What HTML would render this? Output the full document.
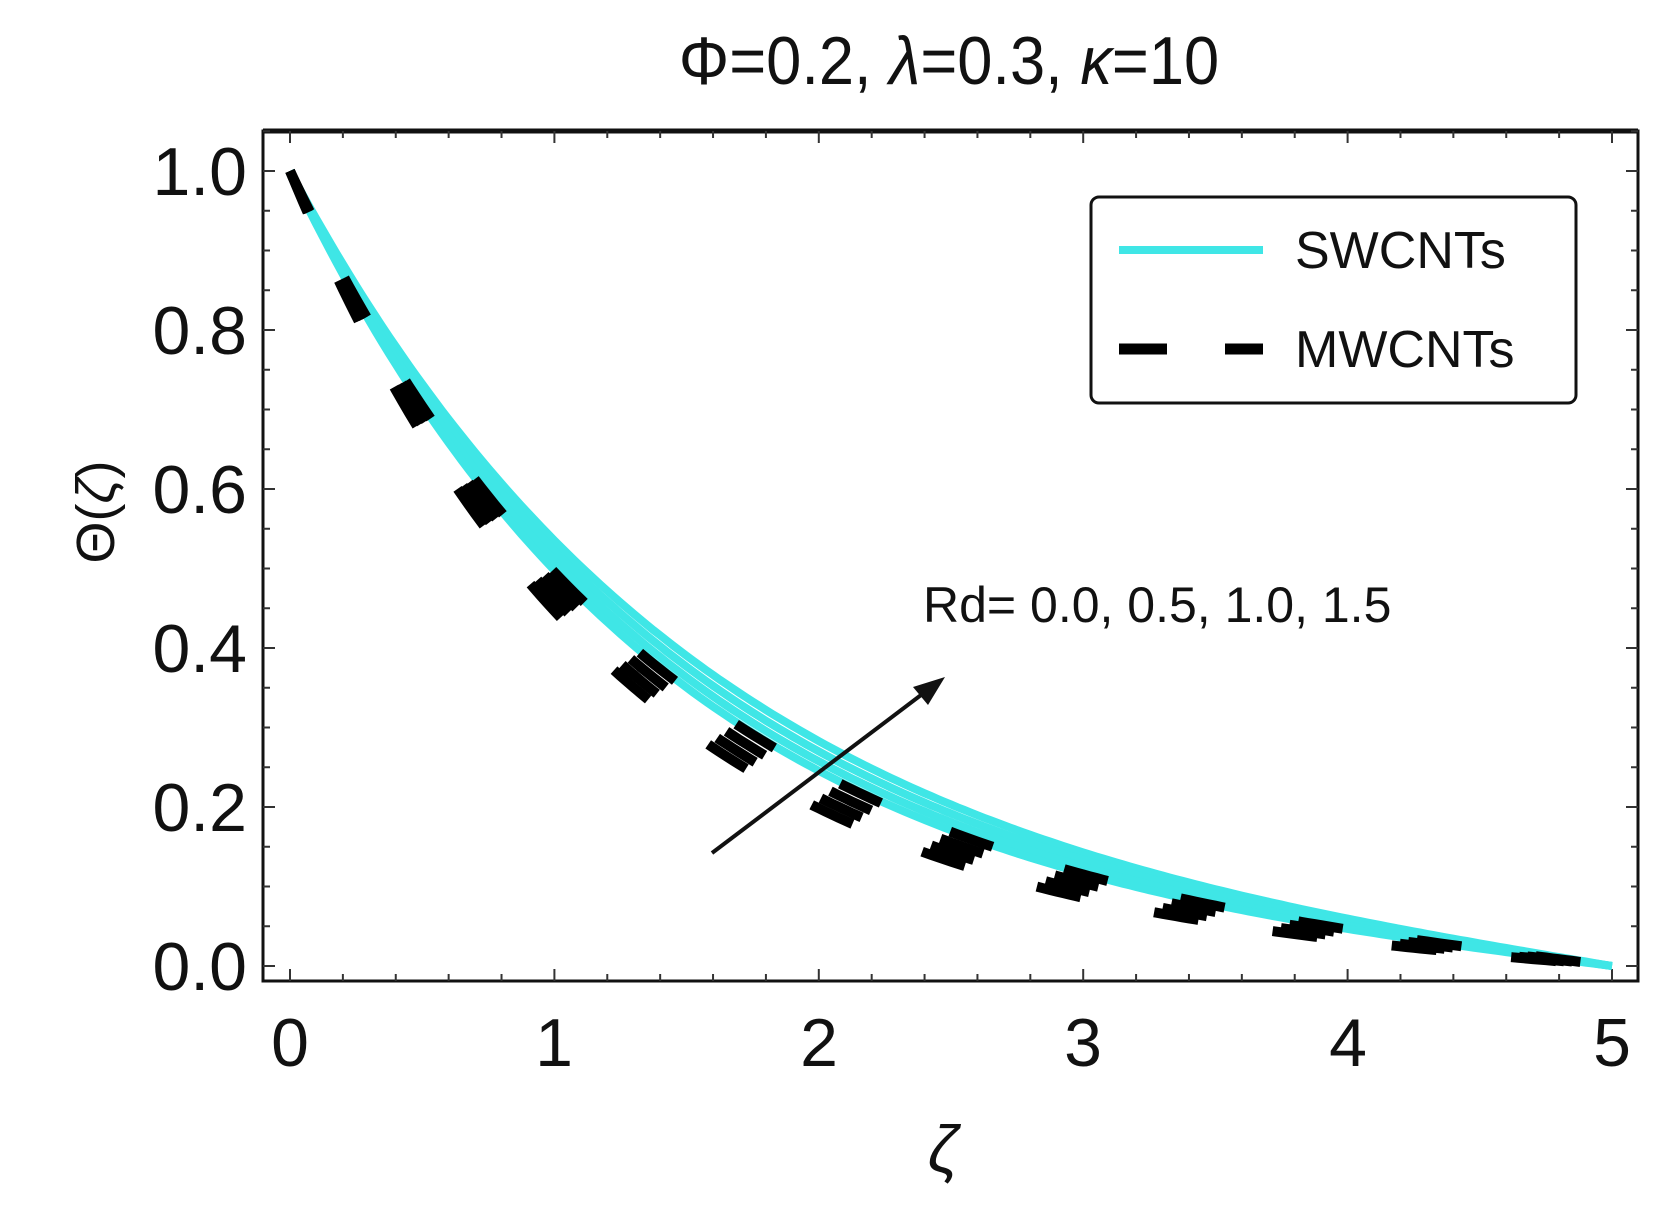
<!DOCTYPE html>
<html><head><meta charset="utf-8"><style>
html,body{margin:0;padding:0;background:#fff;}
svg{display:block;font-family:"Liberation Sans",sans-serif;}
</style></head><body>
<svg id="s" width="1671" height="1221" viewBox="0 0 1671 1221" xmlns="http://www.w3.org/2000/svg">
<text x="949" y="84" font-size="68" text-anchor="middle" fill="#111" transform="translate(949,0) scale(0.93,1) translate(-949,0)">Φ=0.2, <tspan font-style="italic">λ</tspan>=0.3, <tspan font-style="italic">κ</tspan>=10</text>
<rect x="263" y="131" width="1375" height="850" fill="none" stroke="#111" stroke-width="3"/>
<line x1="263" y1="131" x2="1638" y2="131" stroke="#111" stroke-width="5"/>
<g id="ticks" stroke="#333" stroke-width="2"></g>
<g font-size="68" fill="#111" text-anchor="end">
<text x="247" y="195">1.0</text><text x="247" y="354">0.8</text><text x="247" y="513">0.6</text>
<text x="247" y="672">0.4</text><text x="247" y="831">0.2</text><text x="247" y="990">0.0</text>
</g>
<g font-size="68" fill="#111" text-anchor="middle">
<text x="290" y="1066">0</text><text x="554" y="1066">1</text><text x="819" y="1066">2</text>
<text x="1083" y="1066">3</text><text x="1348" y="1066">4</text><text x="1612" y="1066">5</text>
</g>
<text x="943" y="1172" font-size="66" font-style="italic" text-anchor="middle" fill="#111">ζ</text>
<text transform="translate(114,512) rotate(-90)" font-size="54" text-anchor="middle" fill="#111">Θ(<tspan font-style="italic">ζ</tspan>)</text>
<g id="curves"></g>
<line x1="712" y1="853" x2="925" y2="692" stroke="#111" stroke-width="4"/>
<polygon points="945,677 913,687 928,705" fill="#111"/>
<text x="923" y="622" font-size="50" fill="#111">Rd= 0.0, 0.5, 1.0, 1.5</text>
<rect x="1091" y="197" width="485" height="206" rx="8" fill="#fff" stroke="#111" stroke-width="3"/>
<line x1="1119" y1="250" x2="1263" y2="250" stroke="#3fe6e6" stroke-width="8"/>
<text x="1295" y="268" font-size="52" fill="#111">SWCNTs</text>
<line x1="1119" y1="349" x2="1263" y2="349" stroke="#000" stroke-width="11" stroke-dasharray="48 58"/>
<text x="1295" y="367" font-size="52" fill="#111">MWCNTs</text>
</svg>
<script>
function X(z){return 290+264.4*z;} function Y(t){return 966-795*t;}
var tk=document.getElementById("ticks"),h="";
for(var i=0;i<=25;i++){var x=X(i*0.2),L=(i%5==0)?12:7;h+='<line x1="'+x+'" y1="981" x2="'+x+'" y2="'+(981-L)+'"/><line x1="'+x+'" y1="131" x2="'+x+'" y2="'+(131+L)+'"/>';}
for(var j=0;j<=25;j++){var t=j*0.05;var y=Y(t);if(y<131)break;var L=(j%4==0)?12:7;h+='<line x1="263" y1="'+y+'" x2="'+(263+L)+'" y2="'+y+'"/><line x1="1638" y1="'+y+'" x2="'+(1638-L)+'" y2="'+y+'"/>';}
tk.innerHTML=h;
function path(m){var d="";for(var k=0;k<=200;k++){var z=k*5/200;var t=Math.sinh(m*(5-z))/Math.sinh(5*m);d+=(k?"L":"M")+X(z).toFixed(1)+","+Y(t).toFixed(1);}return d;}
var g=document.getElementById("curves"),s="";
[0.62,0.645,0.67,0.695].forEach(function(m){s+='<path d="'+path(m)+'" fill="none" stroke="#3fe6e6" stroke-width="8"/>';});
[0.70,0.735,0.77,0.805].forEach(function(m){s+='<path d="'+path(m)+'" fill="none" stroke="#000" stroke-width="10" stroke-dasharray="45 75"/>';});
g.innerHTML=s;
</script>
</body></html>
